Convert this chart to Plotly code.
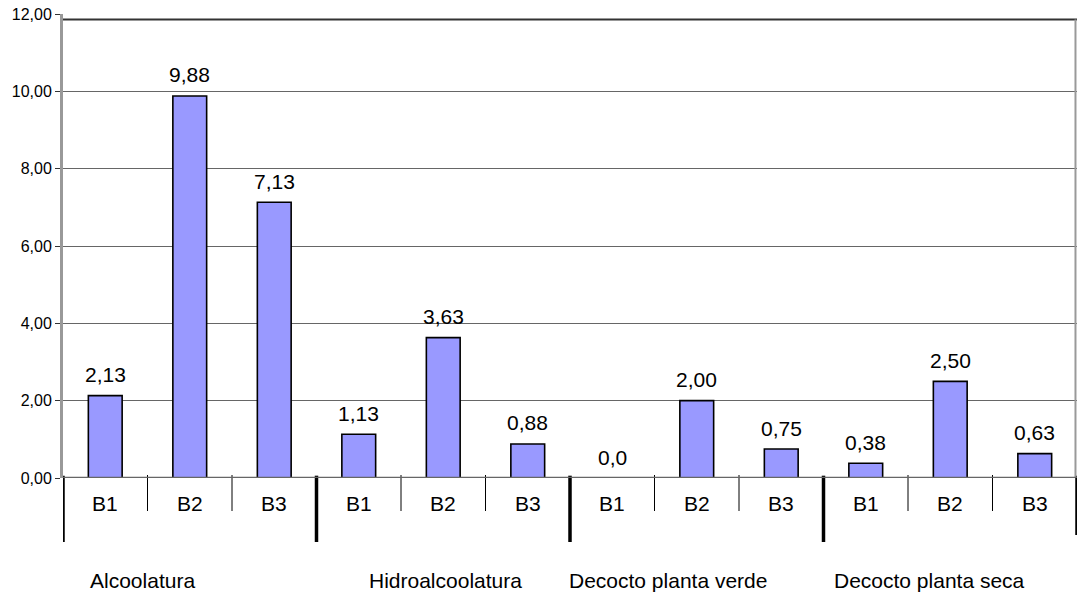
import plotly.graph_objects as go

# ---- data -------------------------------------------------------------
groups = ["Alcoolatura", "Hidroalcoolatura", "Decocto planta verde", "Decocto planta seca"]
subcats = ["B1", "B2", "B3"]
values = [2.13, 9.88, 7.13,
          1.13, 3.63, 0.88,
          0.00, 2.00, 0.75,
          0.38, 2.50, 0.63]
y_tick_vals = [0, 2, 4, 6, 8, 10, 12]
y_tick_text = ["0,00", "2,00", "4,00", "6,00", "8,00", "10,00", "12,00"]


def fmt(v):
    # comma decimal; a zero value is written with a single decimal
    if v == 0:
        return "0,0"
    return f"{v:.2f}".replace(".", ",")


# ---- layout constants -------------------------------------------------
W, H = 1079, 593
M_L, M_R, M_T, M_B = 63, 2, 14, 115
PLOT_H = H - M_T - M_B
FONT = "Arial, 'Liberation Sans', sans-serif"
BAR_COLOR = "#9999FF"
GROUP_LABEL_SHIFT = [-47, 2, -29, -21]   # horizontal nudge of each group caption

n_sub = len(subcats)
x_pos = list(range(len(values)))
cat_labels = [subcats[i % n_sub] for i in x_pos]

fig = go.Figure()
fig.add_trace(go.Bar(
    x=x_pos,
    y=values,
    width=0.40,
    marker=dict(color=BAR_COLOR, line=dict(color="#000000", width=1.6)),
    hoverinfo="skip",
))

annotations = []
# value labels above bars
for x, v in zip(x_pos, values):
    annotations.append(dict(
        x=x, y=v, xref="x", yref="y", text=fmt(v), showarrow=False,
        yanchor="middle", yshift=21,
        font=dict(family=FONT, size=21, color="#000000"),
    ))
# sub-category labels under axis
for x, lab in zip(x_pos, cat_labels):
    annotations.append(dict(
        x=x, y=0, xref="x", yref="paper", text=lab, showarrow=False,
        yanchor="middle", yshift=-25,
        font=dict(family=FONT, size=21, color="#000000"),
    ))
# group captions
for gi, g in enumerate(groups):
    center = gi * n_sub + (n_sub - 1) / 2
    annotations.append(dict(
        x=center, y=0, xref="x", yref="paper", text=g, showarrow=False,
        yanchor="middle", yshift=-102, xshift=GROUP_LABEL_SHIFT[gi],
        font=dict(family=FONT, size=21, color="#000000"),
    ))

shapes = []
# separators between categories (thin) and groups (thick)
for b in range(len(values) + 1):
    xb = b - 0.5
    if b % n_sub == 0:
        bottom = -64 / PLOT_H if b < len(values) else -57 / PLOT_H
        shapes.append(dict(type="line", xref="x", yref="paper",
                           x0=xb, x1=xb, y0=0.005, y1=bottom,
                           line=dict(color="#000000", width=3.5)))
    else:
        shapes.append(dict(type="line", xref="x", yref="paper",
                           x0=xb, x1=xb, y0=3 / PLOT_H, y1=-33 / PLOT_H,
                           line=dict(color="#000000", width=1)))
# plot frame: top and right border
top_y = 1 - 5.5 / PLOT_H
shapes.append(dict(type="line", xref="paper", yref="paper", x0=0, x1=1,
                   y0=top_y, y1=top_y, line=dict(color="#333333", width=2)))
shapes.append(dict(type="line", xref="paper", yref="paper", x0=0.9985, x1=0.9985,
                   y0=0, y1=top_y, line=dict(color="#999999", width=2)))
# category axis line
shapes.append(dict(type="line", xref="paper", yref="y", x0=0, x1=1,
                   y0=0, y1=0, line=dict(color="#666666", width=2.5)))

fig.update_layout(
    width=W, height=H,
    margin=dict(l=M_L, r=M_R, t=M_T, b=M_B, pad=0),
    paper_bgcolor="#FFFFFF", plot_bgcolor="#FFFFFF",
    showlegend=False,
    bargap=0.6,
    xaxis=dict(range=[-0.5, len(values) - 0.5], showticklabels=False,
               showgrid=False, zeroline=False, showline=False, ticks="",
               fixedrange=True),
    yaxis=dict(range=[0, 12], tickvals=y_tick_vals, ticktext=y_tick_text,
               showgrid=True, gridcolor="#666666", gridwidth=1,
               zeroline=False, showline=True, linecolor="#999999", linewidth=3,
               ticks="outside", ticklen=5, tickcolor="#333333", tickwidth=1,
               tickfont=dict(family=FONT, size=16, color="#000000"),
               fixedrange=True),
    annotations=annotations,
    shapes=shapes,
)

fig.write_html("out.html")
